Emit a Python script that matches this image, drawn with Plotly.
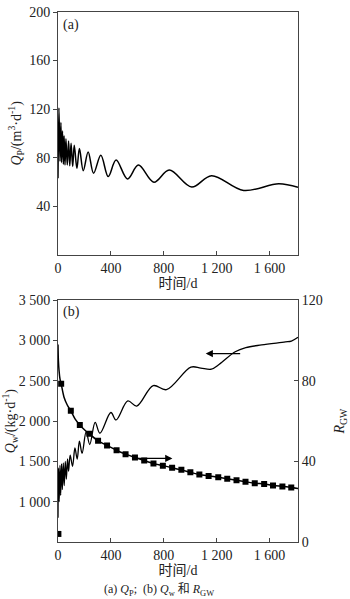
import plotly.graph_objects as go

# ---------------- data ----------------
# (a) Q_P  (m3/d) vs time (d)
qp_t = [0, 7, 15, 22, 27, 34, 41, 46, 53, 60, 70, 80, 89, 99, 111, 123, 143, 162,
        191, 228, 269, 324, 380, 439, 526, 608, 725, 841, 1011, 1161, 1404, 1670, 1815]
qp_v = [63, 121, 77, 109, 76, 102, 74.5, 98, 74, 95.6, 73.9, 93.7, 73.3, 91.8, 72.8,
        90.2, 71.2, 87.5, 69.3, 84.7, 67.2, 82, 64.4, 78, 62.5, 73.9, 59.8, 69.8,
        55.8, 65.2, 53, 58.6, 55.6]

# (b) Q_w (kg/d) vs time
qw_t = [0, 4, 9, 15, 20, 27, 33, 40, 47, 55, 63, 72, 80, 92, 110, 128, 145, 162, 182,
        213, 240, 281, 317, 400, 439, 528, 595, 720, 820, 1005, 1080, 1160, 1220,
        1340, 1420, 1540, 1720, 1765, 1815]
qw_v = [800, 1420, 1000, 1450, 1080, 1470, 1150, 1480, 1200, 1500, 1280, 1530, 1380,
        1577, 1440, 1666, 1530, 1750, 1600, 1870, 1710, 1985, 1850, 2107, 2014, 2250,
        2187, 2440, 2390, 2670, 2658, 2645, 2705, 2860, 2912, 2945, 2982, 2993, 3040]

# (b) R_GW curve
rg_t = [0, 3, 8, 15, 24, 45, 70, 97, 130, 165, 200, 237, 303, 371, 443, 511, 582, 652,
        722, 793, 863, 933, 1001, 1069, 1139, 1212, 1280, 1350, 1418, 1488, 1559, 1626,
        1697, 1764, 1815]
rg_v = [98, 90, 85, 81, 78.5, 72, 68, 65.1, 61, 58.1, 55.7, 53.7, 50.2, 47.9, 45.5,
        43.6, 41.9, 40.4, 38.9, 37.9, 36.9, 35.8, 34.6, 33.5, 32.8, 32.1, 31.4, 30.6,
        29.9, 29.2, 28.8, 28.1, 27.6, 27.1, 26.6]

# R_GW sample markers
rm_t = [3, 24, 97, 165, 237, 303, 371, 443, 511, 582, 652, 722, 793, 863, 933, 1001,
        1069, 1139, 1212, 1280, 1350, 1418, 1488, 1559, 1626, 1697, 1764]
rm_v = [4, 78.5, 65.1, 58.1, 53.7, 50.2, 47.9, 45.5, 43.6, 41.9, 40.4, 38.9, 37.9,
        36.9, 35.8, 34.6, 33.5, 32.8, 32.1, 31.4, 30.6, 29.9, 29.2, 28.8, 28.1, 27.6, 27.1]

x_ticks = [0, 400, 800, 1200, 1600]
x_ticktext = ["0", "400", "800", "1 200", "1 600"]
ya_ticks = [40, 80, 120, 160, 200]
yb_ticks = [1000, 1500, 2000, 2500, 3000, 3500]
yb_ticktext = ["1 000", "1 500", "2 000", "2 500", "3 000", "3 500"]
yr_ticks = [0, 40, 80, 120]

FONT = "Liberation Serif, Times New Roman, Noto Sans CJK SC, serif"
LC = "#444444"

fig = go.Figure()
fig.add_trace(go.Scatter(x=qp_t, y=qp_v, mode="lines", line=dict(color="black", width=1.5, shape="spline", smoothing=1.0),
                         xaxis="x", yaxis="y", showlegend=False))
fig.add_trace(go.Scatter(x=qw_t, y=qw_v, mode="lines", line=dict(color="black", width=1.3, shape="spline", smoothing=1.0),
                         xaxis="x2", yaxis="y2", showlegend=False))
fig.add_trace(go.Scatter(x=rg_t, y=rg_v, mode="lines", line=dict(color="black", width=1.5, shape="spline", smoothing=0.8),
                         xaxis="x2", yaxis="y3", showlegend=False))
fig.add_trace(go.Scatter(x=rm_t, y=rm_v, mode="markers", marker=dict(symbol="square", size=6, color="black"),
                         xaxis="x2", yaxis="y3", showlegend=False))

axis_common = dict(showline=True, linecolor=LC, linewidth=1, mirror=True, showgrid=False, zeroline=False,
                   tickfont=dict(family=FONT, size=14, color="#222"), ticklen=4, tickcolor=LC)

TOP_LO = 0.5419
BOT_HI = 0.4562

fig.update_layout(
    width=350, height=599,
    margin=dict(l=55, r=44, t=5, b=57),
    paper_bgcolor="white", plot_bgcolor="white",
    font=dict(family=FONT, size=14, color="#222"),
    xaxis=dict(domain=[0, 1], anchor="y", range=[0, 1815], tickvals=x_ticks, ticktext=x_ticktext,
               ticks="inside", title=dict(text="时间/d", standoff=0, font=dict(family=FONT, size=14)), **axis_common),
    yaxis=dict(domain=[TOP_LO, 1], anchor="x", range=[0, 200], tickvals=ya_ticks,
               ticks="outside",
               title=dict(text="<i>Q</i><sub>P</sub>/(m<sup>3</sup>·d<sup>-1</sup>)", standoff=4,
                          font=dict(family=FONT, size=14)), **axis_common),
    xaxis2=dict(domain=[0, 1], anchor="y2", range=[0, 1815], tickvals=x_ticks, ticktext=x_ticktext,
                ticks="inside", title=dict(text="时间/d", standoff=0, font=dict(family=FONT, size=14)), **axis_common),
    yaxis2=dict(domain=[0, BOT_HI], anchor="x2", range=[500, 3500], tickvals=yb_ticks, ticktext=yb_ticktext,
                ticks="outside",
                title=dict(text="<i>Q</i><sub>w</sub>/(kg·d<sup>-1</sup>)", standoff=4,
                           font=dict(family=FONT, size=14)), **axis_common),
    yaxis3=dict(overlaying="y2", anchor="x2", side="right", range=[0, 120], tickvals=yr_ticks,
                ticks="inside", showline=True, linecolor=LC, linewidth=1, showgrid=False, zeroline=False,
                tickfont=dict(family=FONT, size=14, color="#222"), ticklen=4, tickcolor=LC,
                title=dict(text="<i>R</i><sub>GW</sub>", standoff=12, font=dict(family=FONT, size=14))),
    annotations=[
        dict(text="(a)", x=0.012, y=0.995, xref="paper", yref="paper", xanchor="left", yanchor="top",
             showarrow=False, font=dict(family=FONT, size=14)),
        dict(text="(b)", x=0.012, y=BOT_HI - 0.003, xref="paper", yref="paper", xanchor="left", yanchor="top",
             showarrow=False, font=dict(family=FONT, size=14)),
        dict(x=1117, y=2838, ax=1389, ay=2838, xref="x2", yref="y2", axref="x2", ayref="y2",
             showarrow=True, arrowhead=2, arrowsize=1.2, arrowwidth=1.2, arrowcolor="black", text=""),
        dict(x=865, y=1537, ax=562, ay=1537, xref="x2", yref="y2", axref="x2", ayref="y2",
             showarrow=True, arrowhead=2, arrowsize=1.2, arrowwidth=1.2, arrowcolor="black", text=""),
        dict(text="(a) <i>Q</i><sub>P</sub>;  (b) <i>Q</i><sub>w</sub> 和 <i>R</i><sub>GW</sub>",
             x=0.42, y=-0.09, xref="paper", yref="paper", xanchor="center", yanchor="middle",
             showarrow=False, font=dict(family=FONT, size=12)),
    ],
)

fig.write_html("out.html")
